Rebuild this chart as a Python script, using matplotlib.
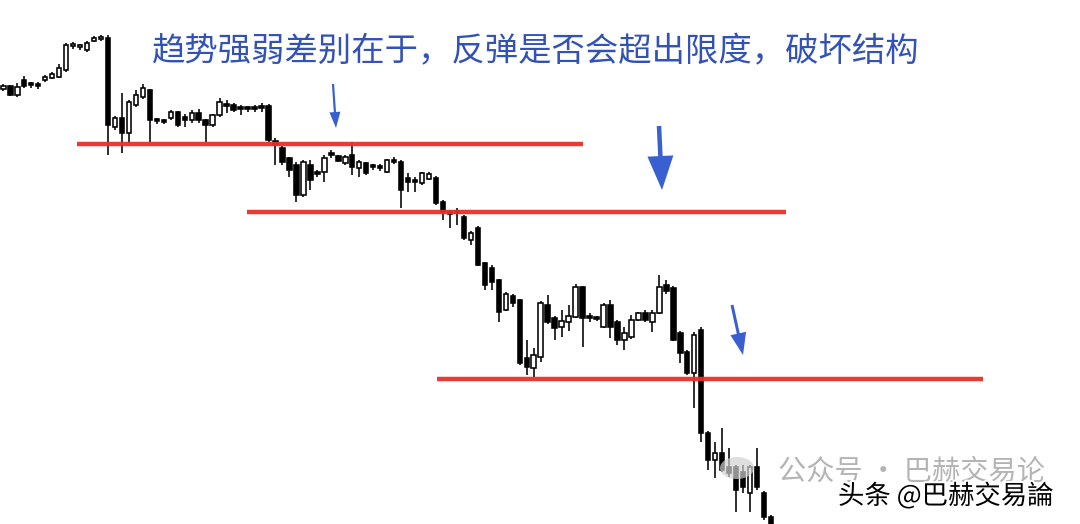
import matplotlib
matplotlib.use('Agg')
import matplotlib.pyplot as plt
import matplotlib.patheffects as pe
from matplotlib.patches import FancyArrow, Ellipse

plt.rcParams['font.family'] = ['Noto Sans CJK SC', 'DejaVu Sans']

# ---- candle data (price units, arbitrary scale) ----
opens = [435, 438, 429, 444, 440, 439, 444, 446, 447, 454, 478, 477, 474, 483, 485, 486,
         397, 406, 391, 419, 427, 434, 404, 403, 406, 412, 407, 404, 411, 404, 399, 409, 420, 419,
         416, 416, 416, 417, 418, 383, 376, 366, 359, 329, 359, 352, 352, 370, 368, 361, 369, 356,
         361, 358, 357, 352, 364, 362, 346, 343, 341, 345, 346, 322, 312, 313, 307, 284, 296, 261,
         256, 244, 214, 228, 224, 166, 156, 167, 219, 206, 197, 202, 207, 237, 207, 207, 197, 219,
         202, 184, 187, 204, 211, 202, 211, 239, 236, 191, 172, 151, 194, 91, 64, 71, 57, 57, 52,
         31, 57, 31, 7]
highs = [440, 439, 441, 448, 442, 442, 449, 452, 460, 481, 482, 480, 483, 488, 489, 489,
         408, 431, 424, 434, 440, 435, 406, 405, 414, 413, 410, 414, 415, 405, 410, 426, 424, 421,
         419, 418, 419, 421, 420, 386, 378, 367, 362, 364, 364, 354, 369, 374, 369, 369, 382, 364,
         362, 360, 360, 365, 367, 364, 351, 347, 352, 352, 348, 324, 314, 316, 309, 293, 298, 262,
         259, 245, 232, 230, 225, 184, 176, 223, 229, 208, 214, 219, 240, 238, 211, 208, 221, 224,
         204, 197, 209, 212, 214, 214, 249, 244, 238, 193, 174, 192, 197, 93, 82, 96, 76, 59, 59,
         59, 76, 33, 9]
lows = [433, 428, 427, 436, 436, 435, 442, 445, 446, 452, 475, 474, 472, 482, 483, 369,
        394, 371, 381, 417, 425, 382, 400, 400, 404, 397, 397, 401, 401, 382, 397, 407, 411, 412,
        409, 412, 412, 412, 382, 359, 359, 347, 322, 327, 334, 347, 342, 366, 362, 359, 349, 347,
        349, 354, 353, 351, 360, 316, 332, 332, 339, 344, 319, 304, 296, 299, 284, 279, 258, 234,
        234, 202, 213, 217, 159, 149, 147, 162, 200, 184, 187, 193, 206, 177, 202, 203, 196, 186,
        179, 174, 185, 203, 202, 192, 210, 230, 183, 161, 149, 116, 82, 54, 46, 52, 47, 12, 31,
        12, 34, 4, -16]
closes = [438, 429, 437, 438, 439, 438, 447, 450, 456, 479, 479, 478, 481, 486, 486, 399,
          406, 391, 422, 429, 436, 404, 403, 402, 412, 399, 404, 411, 404, 399, 409, 422, 418, 414,
          415, 415, 415, 416, 384, 379, 362, 354, 329, 362, 344, 350, 366, 369, 363, 367, 357, 362,
          351, 357, 356, 364, 362, 334, 342, 342, 351, 350, 321, 312, 310, 311, 286, 291, 259, 239,
          242, 212, 230, 221, 161, 157, 169, 221, 202, 196, 203, 208, 237, 206, 206, 205, 219, 197,
          184, 191, 204, 211, 204, 211, 237, 233, 184, 171, 151, 189, 91, 64, 71, 54, 51, 34, 37,
          57, 37, 7, -11]

# horizontal support levels (price)
level_prices = [380, 312, 145]
title_text = "趋势强弱差别在于，反弹是否会超出限度，破坏结构"
watermark_grey = "公众号 · 巴赫交易论"
watermark_black = "头条 @巴赫交易論"

W, H = 1080, 524
fig = plt.figure(figsize=(W / 100, H / 100), dpi=100)
fig.patch.set_facecolor('white')

# main price axes: whole figure
ax = fig.add_axes([0, 0, 1, 1])
ax.set_facecolor('white')
n = len(opens)
spacing = 6.979        # pixels per candle
first_px = 108 - 15 * spacing
ax.set_xlim(-first_px / spacing, (W - first_px) / spacing)
ax.set_ylim(0, H)
ax.axis('off')

wick_lw = 1.15
body_w = 0.64
for i in range(n):
    o, h, l, c = opens[i], highs[i], lows[i], closes[i]
    ax.vlines(i, l, h, color='black', lw=wick_lw, zorder=2)
    bottom = min(o, c)
    height = max(abs(c - o), 1.6)
    fc = 'white' if c >= o else 'black'
    ax.bar(i, height, bottom=bottom, width=body_w, facecolor=fc,
           edgecolor='black', linewidth=1.15, zorder=3)

# overlay axes in pixel coordinates for annotations
ov = fig.add_axes([0, 0, 1, 1], facecolor='none')
ov.set_xlim(0, W)
ov.set_ylim(H, 0)
ov.axis('off')

red = '#e8302a'
spans = [(77, 583), (247, 786), (437, 983)]
for p, (x0, x1) in zip(level_prices, spans):
    ov.hlines(H - p, x0, x1, color=red, lw=3.2, zorder=5, alpha=0.95)

blue = '#3a5fd0'
arrows = [  # x, y, dx, dy, shaft width, head width, head length
    (333, 84, 3, 44, 2.2, 11, 16),
    (659, 126, 3, 64, 4.5, 26, 34),
    (732, 305, 11, 50, 3.0, 16, 22),
]
for x, y, dx, dy, sw, hw, hl in arrows:
    ov.add_patch(FancyArrow(x, y, dx, dy, width=sw, head_width=hw, head_length=hl,
                            length_includes_head=True, color=blue, zorder=6, lw=0))

ov.text(152, 52, title_text, color='#3352b8', fontsize=24, ha='left', va='center',
        zorder=7)

# watermarks
ov.add_patch(Ellipse((737, 468), 34, 22, color='#d0d0d0', alpha=0.7, zorder=6, lw=0))
ov.text(778, 472, watermark_grey, color='#b4b4b4', fontsize=20.3, ha='left', va='center',
        zorder=7)
ov.text(838, 496, watermark_black, color='black', fontsize=19, ha='left', va='center',
        zorder=8, path_effects=[pe.withStroke(linewidth=3, foreground='white')])

fig.savefig('out.png', dpi=100, facecolor='white')
